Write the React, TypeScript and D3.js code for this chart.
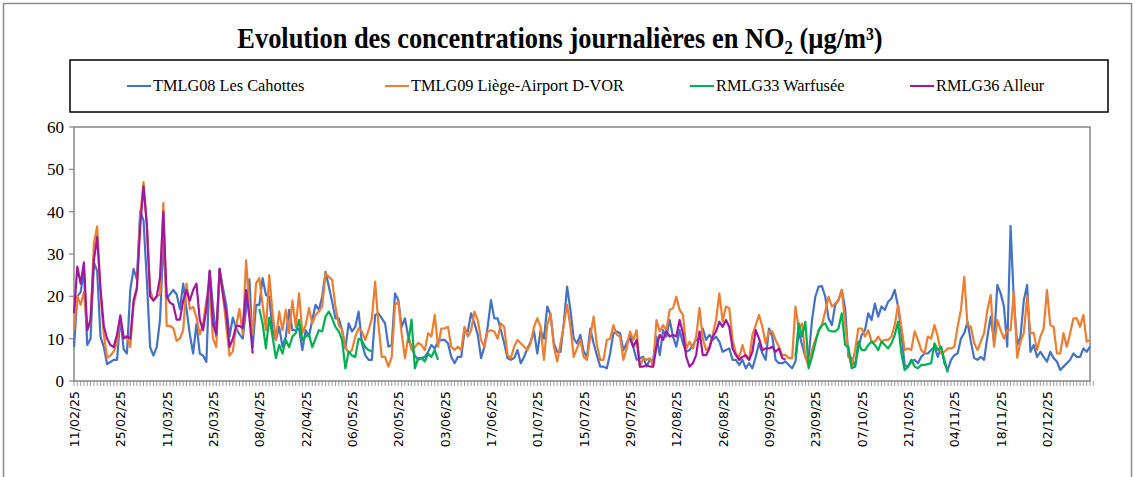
import React from "react";
import * as d3 from "d3";

const START_DATE = "2025-02-11";
const N_DAYS = 308;
const xTickLabels = ["11/02/25","25/02/25","11/03/25","25/03/25","08/04/25","22/04/25","06/05/25","20/05/25","03/06/25","17/06/25","01/07/25","15/07/25","29/07/25","12/08/25","26/08/25","09/09/25","23/09/25","07/10/25","21/10/25","04/11/25","18/11/25","02/12/25"];
const yTicks = [0, 10, 20, 30, 40, 50, 60];

const seriesNames = ["TMLG08 Les Cahottes", "TMLG09 Liège-Airport D-VOR", "RMLG33 Warfusée", "RMLG36 Alleur"];
const seriesColors = ["#4472C4", "#ED7D31", "#00B050", "#A0189E"];

// TMLG08 Les Cahottes (daily, from 11/02/25)
const TMLG08 = [
  8,20,21,26,8.5,10,28,26,10.5,8, 4,4.5,5,5,15,7.5,6.5,21.5,26.5,24, 40,38,24,8,6,8,14.5,33,19.5,20.5,
  21.5,20.5,17,23,17,11,6.5,13.5,6.5,6, 4.5,26,17.5,10.5,26.5,22,18,10.5,15,12.5, 11,10,17,24,8,
  18,18,24.3,20.3,19.9,12,9.7,12.8,8.1,10.5, 16.8,12,12,12.4,7.3,12,10.5,14.4,18,16.8, 19.9,25.8,22.3,18.7,14.8,14.8,12,7.7,13.6,11.7,
  12.8,16.4,8.9,6.1,5,5,15.6,16,14.8,13.6, 8.1,8.5,20.7,19.1,12.8,14.8,10.5,
  8,6,5,5.4,5.7,6.9,8.5,7.7,9.3,9.7, 9.7,8.9,5.7,4.2,5.7,5.7,11.7,11.7,16,13.6, 10.9,5.4,8.1,12.8,19.1,14.8,14.8,12,8.9,5.4,
  5,5.4,7.3,4.2,5.7,7.7,9.3,11.7,6.5,12, 10,17.6,15.6,8.9,6.9,6.9,13.6,22.3,16.8,10, 8.9,10.9,7,
  5.7,12.4,8.9,6.1,3.4,3.4,3,6.5,11.3,11.7, 11.3,7.3,8.9,10.9,8,5,5.4,5.7,3.4,5, 5,10.5,6.1,12,10.5,14.4,10.5,8.1,12,8.9,
  6.9,7.3,8.5,9.7,10,12.4,9.7,10.9,9.7,10.5, 9.3,6.9,7.3,7.7,5,5,3.8,5,3,4.2,
  3,5.7,8.9,6.5,5,12.4,10.5,5,4.2,4.2, 4.6,3.8,3,4.6,11.7,8.5,5.7,5.7,14.4,19.9, 22.3,22.4,19.9,14.8,13.2,18,19.1,21.5,17.2,5.7,
  5.4,3.4,7.7,10.9,12,16,14.4,18.3,15.2,17.6, 16.8,18.7,19.5,21.5,17.6,11.3,3.8,3.4,4.6,5, 4.2,
  5.7,6.5,6.5,7.3,8.1,5.7,8.1,4.2,2.6,5, 6.1,6.5,10,11.3,14,9.3,5.4,5,5.7,5, 10.5,15.2,9.3,22.7,20.7,17.6,8.1,36.6,18.7,8.5,
  10.5,19.1,22.7,6.9,8.5,5.7,6.9,5.7,4.6,6.9, 5.4,4.6,2.6,3.4,4.2,5,6.5,5.7,5.7,7.7, 6.9,8.1,
];

// TMLG09 Liège-Airport D-VOR
const TMLG09 = [
  12,20,18,21,12,14,32.5,36.5,20.5,11, 5.5,6,7,9,15,10.5,10.5,8,18,21.5, 39,47,37,21.5,19,20,20.5,42,13,13,
  12.5,9.5,10,12,23,17,17.5,15,11,13.5, 19,21.5,10,8,26,20.5,13,6,7,13, 17,11,28.5,17.5,11,
  23,24.3,18,12,25,16,9.7,16.4,12,16.8, 11.3,19,12.8,20.7,11.3,13.2,17.2,13.6,15.6,16.4, 17.6,25.4,24.6,23.9,17.6,13.2,12,8.1,6.5,7.3,
  10.5,12.4,11.7,9.7,12,14.8,23.5,13.2,5.7,5.7, 3.4,5.7,18,18.7,11.3,5.4,10.5,
  7.3,8,9,8.5,7.3,11.3,10.5,15.6,8.1,12.4, 12.4,12.8,8.1,7.3,8.1,7.3,12.8,10.5,12,16.4, 14.4,9.7,8.1,11.7,12,11.7,10,13.6,12.8,6.1,
  5.4,8.1,9.7,8.9,8.1,7.3,8.9,12.8,14.8,12.8, 5,13.2,16,8.1,4.6,8.9,13.2,18,12.8,5.7, 7.7,9.7,5.7,
  5,10.5,15.2,8.5,5,5,9.7,10,13.2,10.9, 10.5,5,7.7,11.7,9.7,12,3.4,5.4,5,5.4, 3.4,14.4,11.7,13.2,12,16.8,17.2,19.9,16.8,15.6,
  7.7,9.3,7.7,10.5,17.2,10,7.3,8.1,10.9,14.4, 20.7,14,17.6,17.2,9.7,6.5,5.7,8.5,5.7,5,
  10.9,13.2,15.6,12.8,8.9,11.7,11.7,9.7,8.1,6.1, 6.1,5.4,5.4,17.6,12.4,13.6,5.7,3.4,7.3,9.7, 11.7,13.2,16.4,19.9,17.6,18.3,19.1,21.5,13.6,6.5,
  3.4,7.3,12.4,12.4,10.5,12,9.3,9.3,10.5,9.3, 9.7,9.7,10.5,13.2,18,12.8,7.3,7.7,7.3,11.7, 9.7,
  7.3,6.5,10.5,10,13.2,10.5,6.5,6.9,7.7,7.7, 8.1,12.8,16.8,24.6,13.2,12.8,8.9,7.3,9.3,11.3, 16.8,20.3,8.1,14.4,12,10,12,12,21,5.5,
  9.3,11.3,19.9,11.3,11.3,7.3,10.5,12.4,21.5,13.2, 12.8,6.5,6.5,11.3,8.1,11.3,14.8,14.8,12.8,15.6, 9.3,9.7,
];

// RMLG33 Warfusée (measured periods, start day index + values)
const RMLG33_apr_start = 56;
const RMLG33_apr = [17,13.5,7.7,15,10.5,5.4,8.5,6.5,9.7,8, 10.5,11.3,14.4,9.7,10.5,11,8,10,12,11.7, 15.2,16.4,14.8,12.8,11.7, 9.7,3,7,6,5.7,10,9.5,8,7.3,7];
const RMLG33_may_start = 101;
const RMLG33_may = [9,14.5,3,5.4,5.4,4.6,6.5,5.7,7.3,5];
const RMLG33_sep_start = 218;
const RMLG33_sep = [5.7,13.6,10.5,14,3,5.7,8.9,12,13.2,13.6, 12,11.7,11.7,12.4,16,8.5,8.1,3,3.4,9.3, 7.3,7.3,8.5,9.3,8.5,7.3,9.3,8.5,7.7,8.9, 10.9,14,6.5,2.6,3.4,5,3.4,3,3.8,3.8, 4,4.2,8.9,7.3,8.1,5,2];

// RMLG36 Alleur
const RMLG36_feb_start = 0;
const RMLG36_feb = [16,27,23,28,12,14.5,28.5,34,22,13, 10,8.5,8,11,15.5,10,10.5,10,19,22, 36.5,46,37,20,19,20,24.5,40,20,18.5, 18,14.5,14.5,19,21.5,19,21.5,23,14.5,12, 17,26,13.5,11,26.5,20.5,16,8,10,13, 13,12.5,21.5,15,6.5];
const RMLG36_aug_start = 168;
const RMLG36_aug = [10,8.1,9.7,3.4,3.4,3.8,3.4,3.4,8.1,10.9, 9.7,11.7,10.5,10.9,10.5,14.4,11.3,5.7,3.4,4.2, 6.1,11.7,6.1,6.1,7.7,10.5,11.7,14,12.8,14.4, 12.8,7.7,6.1,5,5.7,6.1,5,6.9,12,10, 7.3,7.7,7.7,8.1,6.9,7.7,5.4,5];

type Pt = { d: number; v: number | null };
const fromFull = (arr: number[]): Pt[] => arr.map((v, d) => ({ d, v }));
const fromParts = (parts: [number, number[]][]): Pt[] => {
  const out: Pt[] = [];
  parts.forEach(([s, vals], i) => {
    if (i > 0) out.push({ d: s - 0.5, v: null });
    vals.forEach((v, k) => out.push({ d: s + k, v }));
  });
  return out;
};

const series: Pt[][] = [
  fromFull(TMLG08),
  fromFull(TMLG09),
  fromParts([[RMLG33_apr_start, RMLG33_apr], [RMLG33_may_start, RMLG33_may], [RMLG33_sep_start, RMLG33_sep]]),
  fromParts([[RMLG36_feb_start, RMLG36_feb], [RMLG36_aug_start, RMLG36_aug]]),
];

export default function App() {
  const W = 1135, H = 477;
  const left = 74, right = 1090, top = 127, bottom = 381;
  const x = d3.scaleLinear().domain([0, N_DAYS - 1]).range([left, right]);
  const y = d3.scaleLinear().domain([0, 60]).range([bottom, top]);
  const line = d3.line<Pt>().defined(p => p.v != null).x(p => x(p.d)).y(p => y(p.v as number));
  const serif = "'Liberation Serif', 'Times New Roman', serif";
  const sans = "'DejaVu Sans', Verdana, sans-serif";
  const axisColor = "#868686";
  const days = d3.range(N_DAYS + 1);
  const legendX = [127, 385, 690, 910];

  return (
    <svg width={W} height={H} style={{ position: "absolute", left: 0, top: 0, background: "#fff" }}>
      <rect x={3.5} y={3.5} width={1128} height={490} fill="#fff" stroke="#8c8c8c" strokeWidth={1.5} />
      <g transform="translate(560,48) scale(0.88,1)">
        <text x={0} y={0} textAnchor="middle" fontFamily={serif} fontWeight="bold" fontSize={30} fill="#000">
          <tspan>Evolution des concentrations journalières en NO</tspan>
          <tspan dy={6} fontSize={19}>2</tspan>
          <tspan dy={-6}> (µg/m³)</tspan>
        </text>
      </g>
      <rect x={70} y={60} width={1038} height={52} fill="#fff" stroke="#000" strokeWidth={1.5} />
      {seriesNames.map((n, i) => (
        <g key={n}>
          <line x1={legendX[i]} x2={legendX[i] + 24} y1={86} y2={86} stroke={seriesColors[i]} strokeWidth={2} />
          <g transform={`translate(${legendX[i] + 26},91) scale(0.96,1)`}>
            <text x={0} y={0} fontFamily={serif} fontSize={17} fill="#000">{n}</text>
          </g>
        </g>
      ))}
      <rect x={left} y={top} width={right - left} height={bottom - top} fill="none" stroke={axisColor} strokeWidth={1.5} />
      {yTicks.map(t => (
        <g key={t}>
          <line x1={left - 5} x2={left} y1={y(t)} y2={y(t)} stroke={axisColor} strokeWidth={1.2} />
          <text x={left - 10} y={y(t) + 6} textAnchor="end" fontFamily={serif} fontSize={17} fill="#000">{t}</text>
        </g>
      ))}
      {days.map(d => (
        <line key={d} x1={x(d)} x2={x(d)} y1={bottom} y2={bottom + 5} stroke={axisColor} strokeWidth={0.8} />
      ))}
      {xTickLabels.map((lab, i) => {
        const px = x(i * 14);
        return (
          <text key={lab} transform={`translate(${px + 5},${bottom + 10}) rotate(-90)`} textAnchor="end"
            fontFamily={sans} fontSize={12.5} fill="#000">{lab}</text>
        );
      })}
      {series.map((s, i) => (
        <path key={i} d={line(s) || ""} fill="none" stroke={seriesColors[i]} strokeWidth={2.2} strokeLinejoin="round" />
      ))}
    </svg>
  );
}
